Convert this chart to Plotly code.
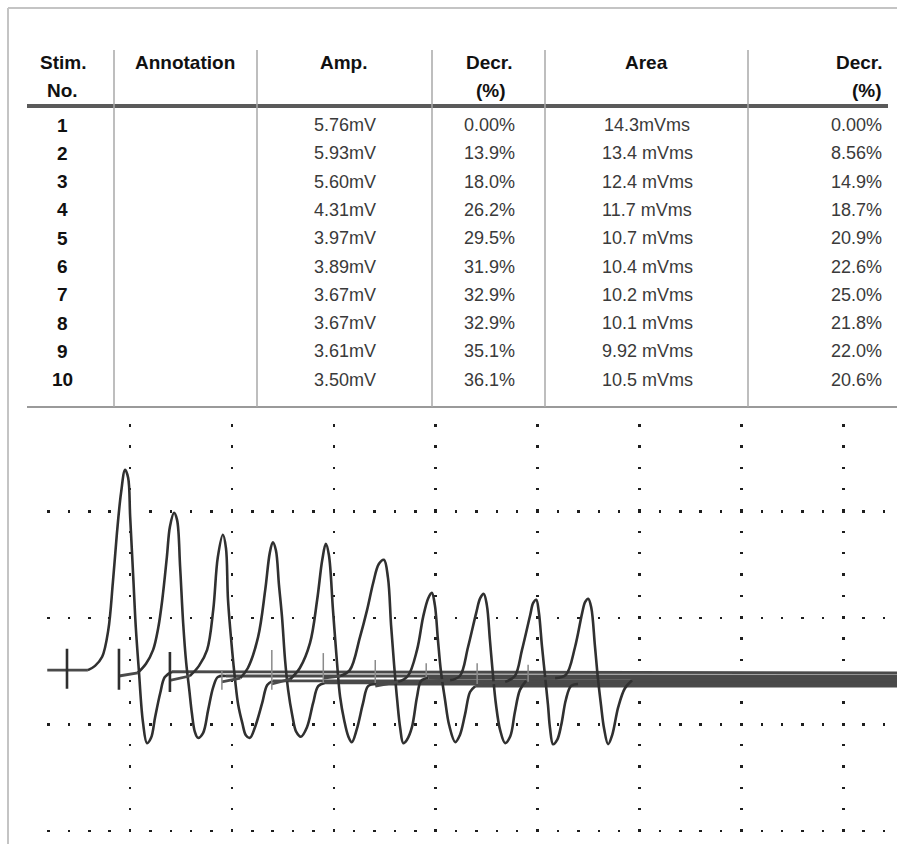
import plotly.graph_objects as go

# ---------------- table data ----------------
stim_no = ["1", "2", "3", "4", "5", "6", "7", "8", "9", "10"]
amp = ["5.76mV", "5.93mV", "5.60mV", "4.31mV", "3.97mV",
       "3.89mV", "3.67mV", "3.67mV", "3.61mV", "3.50mV"]
amp_decr = ["0.00%", "13.9%", "18.0%", "26.2%", "29.5%",
            "31.9%", "32.9%", "32.9%", "35.1%", "36.1%"]
area = ["14.3mVms", "13.4 mVms", "12.4 mVms", "11.7 mVms", "10.7 mVms",
        "10.4 mVms", "10.2 mVms", "10.1 mVms", "9.92 mVms", "10.5 mVms"]
area_decr = ["0.00%", "8.56%", "14.9%", "18.7%", "20.9%",
             "22.6%", "25.0%", "21.8%", "22.0%", "20.6%"]

# ---------------- waveform data (time in ms, amplitude in mV) ----------------
t1 = [-0.53, 0.41, 0.55, 0.69, 0.81, 0.90, 0.98, 1.06, 1.14, 1.20, 1.24, 1.30, 1.35, 1.41,
      1.49, 1.57, 1.65, 1.73, 1.83, 1.92, 2.06, 16.29]
v1 = [0.11, 0.11, 0.19, 0.36, 0.86, 1.75, 2.68, 3.43, 3.87, 3.72, 2.98, 1.86, 0.92, 0.11,
      -0.86, -1.26, -1.16, -0.77, -0.32, -0.02, 0.08, 0.06]
t2 = [1.02, 1.39, 1.55, 1.69, 1.79, 1.87, 1.96, 2.02, 2.10, 2.16, 2.22, 2.28, 2.34, 2.40,
      2.45, 2.51, 2.57, 2.67, 2.77, 2.87, 2.96, 3.12, 16.29]
v2 = [0.00, 0.06, 0.23, 0.49, 0.90, 1.43, 2.23, 2.80, 3.06, 2.93, 2.05, 0.99, 0.24, -0.26,
      -0.69, -1.05, -1.16, -1.07, -0.64, -0.21, -0.02, 0.00, 0.00]
t3 = [2.02, 2.41, 2.59, 2.75, 2.87, 2.96, 3.06, 3.12, 3.16, 3.24, 3.30, 3.36, 3.44, 3.51,
      3.59, 3.69, 3.83, 3.93, 4.04, 16.29]
v3 = [-0.08, 0.00, 0.19, 0.49, 1.24, 2.23, 2.65, 2.40, 1.43, 0.49, -0.08, -0.54, -0.88, -1.11,
      -1.16, -0.96, -0.51, -0.17, -0.09, -0.09]
t4 = [3.04, 3.40, 3.55, 3.75, 3.89, 3.98, 4.04, 4.10, 4.16, 4.22, 4.28, 4.34, 4.42, 4.50,
      4.59, 4.71, 4.83, 4.93, 5.06, 16.29]
v4 = [-0.11, -0.04, 0.15, 0.73, 1.61, 2.31, 2.51, 2.36, 1.71, 1.11, 0.30, -0.26, -0.73, -1.05,
      -1.14, -0.96, -0.51, -0.19, -0.13, -0.13]
t5 = [4.02, 4.38, 4.57, 4.77, 4.91, 5.01, 5.08, 5.14, 5.22, 5.30, 5.36, 5.44, 5.52, 5.59,
      5.69, 5.81, 5.91, 6.07, 16.29]
v5 = [-0.15, -0.06, 0.15, 0.62, 1.43, 2.18, 2.48, 2.27, 1.24, 0.24, -0.39, -0.83, -1.13, -1.24,
      -0.99, -0.51, -0.19, -0.15, -0.15]
t6 = [5.03, 5.36, 5.55, 5.75, 5.89, 6.01, 6.12, 6.22, 6.30, 6.36, 6.42, 6.48, 6.54, 6.60,
      6.67, 6.77, 6.87, 6.95, 7.09, 16.29]
v6 = [-0.04, 0.00, 0.11, 0.73, 1.24, 1.75, 2.10, 2.18, 1.84, 0.96, 0.21, -0.45, -0.98, -1.26,
      -1.20, -0.96, -0.39, -0.09, -0.04, -0.04]
t7 = [6.05, 6.50, 6.69, 6.87, 6.99, 7.09, 7.16, 7.22, 7.28, 7.34, 7.42, 7.50, 7.62, 7.71,
      7.81, 7.91, 8.01, 16.29]
v7 = [-0.19, -0.11, 0.00, 0.49, 1.11, 1.46, 1.56, 1.33, 0.68, 0.08, -0.45, -0.92, -1.24, -1.11,
      -0.73, -0.30, -0.19, -0.19]
t8 = [7.05, 7.52, 7.71, 7.87, 8.03, 8.11, 8.18, 8.24, 8.30, 8.36, 8.42, 8.50, 8.60, 8.70,
      8.79, 8.89, 9.01, 16.29]
v8 = [-0.09, -0.08, 0.00, 0.54, 1.18, 1.46, 1.54, 1.33, 0.68, 0.02, -0.54, -1.01, -1.26, -1.13,
      -0.68, -0.26, -0.09, -0.09]
t9 = [8.05, 8.60, 8.79, 8.93, 9.09, 9.15, 9.21, 9.26, 9.32, 9.38, 9.44, 9.48, 9.54, 9.62,
      9.70, 9.79, 9.89, 10.03, 16.29]
v9 = [-0.15, -0.11, 0.00, 0.49, 1.14, 1.37, 1.43, 1.20, 0.58, 0.02, -0.54, -0.98, -1.28, -1.20,
      -0.92, -0.45, -0.19, -0.15, -0.15]
t10 = [9.05, 9.58, 9.79, 9.97, 10.11, 10.17, 10.23, 10.29, 10.36, 10.42, 10.48, 10.54, 10.62,
       10.70, 10.82, 10.95, 11.09, 16.29]
v10 = [-0.06, -0.04, 0.02, 0.54, 1.18, 1.39, 1.45, 1.28, 0.58, -0.04, -0.54, -0.98, -1.28,
       -1.11, -0.58, -0.23, -0.08, -0.08]

# stimulus artifacts (one per sweep)
stim_ms = [0.00, 1.02, 2.02, 3.04, 4.02, 5.03, 6.05, 7.05, 8.05, 9.05]
tick_top_mv = [0.51, 0.51, 0.45, 0.11, 0.49, 0.43, 0.30, 0.24, 0.24, 0.21]
tick_bottom_mv = [-0.24, -0.26, -0.30, -0.26, -0.26, -0.13, -0.13, -0.02, -0.15, -0.11]

sweeps_t = [t1, t2, t3, t4, t5, t6, t7, t8, t9, t10]
sweeps_v = [v1, v2, v3, v4, v5, v6, v7, v8, v9, v10]

# ---------------- figure ----------------
W, H = 897, 844


def px(x):
    return x / W


def py(y):
    return 1 - y / H


fig = go.Figure()

wave_color = "#303030"
base_color = "#4a4a4a"
for tt, vv in zip(sweeps_t, sweeps_v):
    # straight lead-in and long straight baseline tail
    fig.add_trace(go.Scatter(
        x=[tt[0], tt[1], None, tt[-2], tt[-1]], y=[vv[0], vv[1], None, vv[-2], vv[-1]],
        mode="lines", line=dict(color=base_color, width=2.8),
        hoverinfo="skip", showlegend=False))
    # smooth compound action potential
    fig.add_trace(go.Scatter(
        x=tt[1:-1], y=vv[1:-1], mode="lines",
        line=dict(color=wave_color, width=2.6, shape="spline", smoothing=1.0),
        hoverinfo="skip", showlegend=False))

# stimulus ticks: first three bold, rest faint
for idx_set, col, wd in [(range(0, 3), "#2e2e2e", 2.6), (range(3, 10), "#8a8a8a", 1.5)]:
    xs, ys = [], []
    for i in idx_set:
        xs += [stim_ms[i], stim_ms[i], None]
        ys += [tick_top_mv[i], tick_bottom_mv[i], None]
    fig.add_trace(go.Scatter(x=xs, y=ys, mode="lines",
                             line=dict(color=col, width=wd),
                             hoverinfo="skip", showlegend=False))

# ---- table shapes ----
shapes = []
line_gray = "#a8a8a8"
# outer frame (top + left)
shapes.append(dict(type="line", xref="paper", yref="paper", x0=px(8), x1=px(897), y0=py(8), y1=py(8),
                   line=dict(color="#c4c4c4", width=2)))
shapes.append(dict(type="line", xref="paper", yref="paper", x0=px(8), x1=px(8), y0=py(8), y1=py(844),
                   line=dict(color="#c4c4c4", width=2)))
# header rule
shapes.append(dict(type="line", xref="paper", yref="paper", x0=px(27), x1=px(888), y0=py(106), y1=py(106),
                   line=dict(color="#5a5a5a", width=4)))
# bottom rule
shapes.append(dict(type="line", xref="paper", yref="paper", x0=px(27), x1=px(897), y0=py(407), y1=py(407),
                   line=dict(color="#9a9a9a", width=2)))
# column separators
for cx in [114, 257, 432, 545, 748]:
    shapes.append(dict(type="line", xref="paper", yref="paper", x0=px(cx), x1=px(cx), y0=py(50), y1=py(407),
                       line=dict(color=line_gray, width=1.5)))

annotations = []
hfont = dict(family="Liberation Sans, Arial, sans-serif", size=19, color="#111111")
vfont = dict(family="Liberation Sans, Arial, sans-serif", size=18, color="#3a3a3a")


def ann(text, x, y, font, xanchor="center"):
    annotations.append(dict(text=text, x=px(x), y=py(y), xref="paper", yref="paper",
                            xanchor=xanchor, yanchor="middle", showarrow=False, font=font))


# header
ann("<b>Stim.</b>", 63, 62, hfont)
ann("<b>No.</b>", 63, 91, hfont)
ann("<b>Annotation</b>", 185, 62, hfont)
ann("<b>Amp.</b>", 344, 62, hfont)
ann("<b>Decr.</b>", 489, 62, hfont)
ann("<b>(%)</b>", 491, 91, hfont)
ann("<b>Area</b>", 646, 62, hfont)
ann("<b>Decr.</b>", 884, 62, hfont, xanchor="right")
ann("<b>(%)</b>", 884, 91, hfont, xanchor="right")

for i in range(len(stim_no)):
    yy = 125 + i * 28.3
    ann("<b>" + stim_no[i] + "</b>", 63, yy, hfont)
    ann(amp[i], 345, yy, vfont)
    ann(amp_decr[i], 489, yy, vfont)
    ann(area[i], 647, yy, vfont)
    ann(area_decr[i], 884, yy, vfont, xanchor="right")

fig.update_layout(
    width=W, height=H,
    margin=dict(l=0, r=0, t=0, b=0, pad=0),
    paper_bgcolor="white", plot_bgcolor="white",
    shapes=shapes, annotations=annotations,
    showlegend=False,
    xaxis=dict(domain=[47.25 / W, 1], range=[-0.3876, 16.29],
               tickmode="linear", tick0=1.2365, dtick=2.0,
               showgrid=True, gridcolor="#1e1e1e", gridwidth=2.5, griddash="2.5px,18.83px",
               showticklabels=False, ticks="", zeroline=False, showline=False, fixedrange=True),
    yaxis=dict(domain=[0, 1 - 424 / H], range=[-3.152, 4.728],
               tickmode="linear", tick0=1.088, dtick=2.0,
               showgrid=True, gridcolor="#1e1e1e", gridwidth=2.5, griddash="2.5px,17.88px",
               showticklabels=False, ticks="", zeroline=False, showline=False, fixedrange=True),
)

fig.write_html(
    "out.html",
    config={"displayModeBar": False, "staticPlot": True},
    post_script="document.body.style.margin='0';document.body.style.padding='0';"
                "document.body.style.overflow='hidden';",
)
